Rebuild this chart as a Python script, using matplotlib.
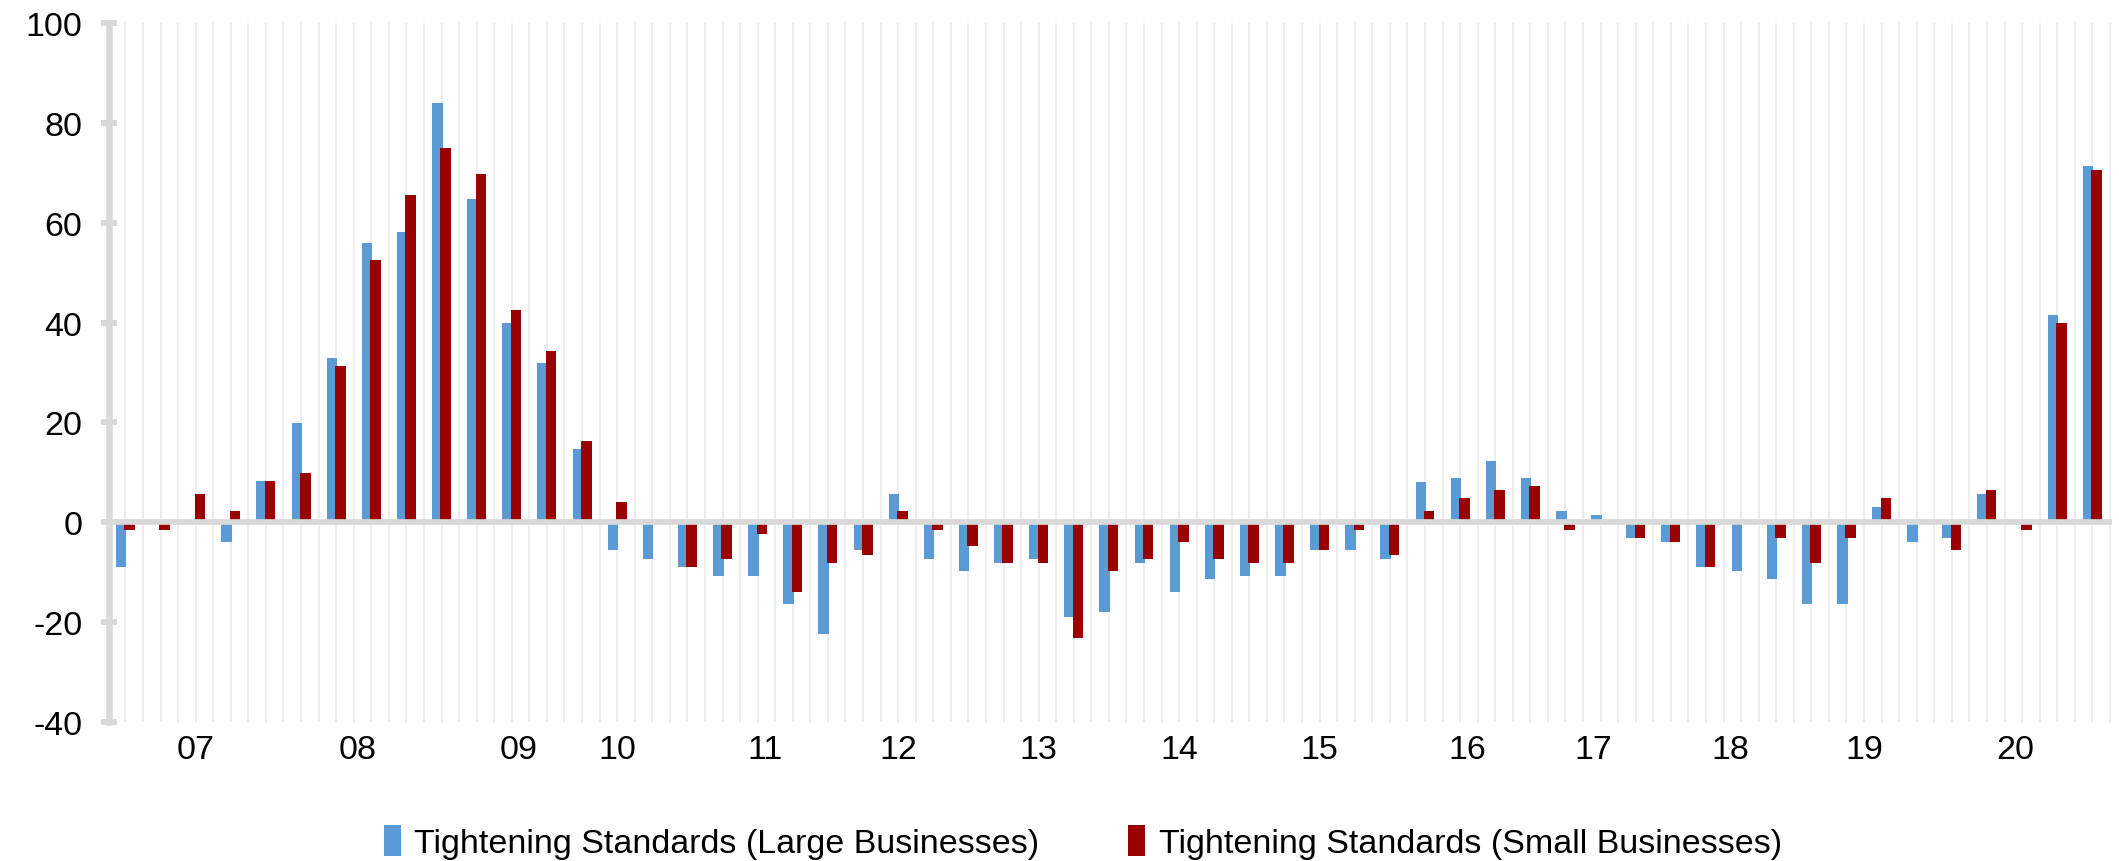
import numpy as np
import matplotlib.pyplot as plt

# dados trimestrais (3T2006 a 3T2020), % líquido de bancos apertando padrões
large = [-9.0, 0.0, 0.0, -4.0, 8.2, 19.8, 32.9, 55.9, 58.2, 83.9,
         64.8, 40.0, 31.8, 14.6, -5.6, -7.3, -9.0, -10.7, -10.7, -16.4,
         -22.3, -5.6, 5.6, -7.4, -9.7, -8.2, -7.3, -18.9, -18.0, -8.2,
         -14.0, -11.4, -10.7, -10.7, -5.6, -5.6, -7.4, 8.1, 8.9, 12.2,
         8.9, 2.3, 1.4, -3.1, -3.9, -9.0, -9.7, -11.4, -16.4, -16.4,
         3.1, -3.9, -3.1, 5.6, 0.0, 41.5, 71.3]
small = [-1.5, -1.5, 5.7, 2.3, 8.2, 9.8, 31.3, 52.6, 65.6, 74.9,
         69.8, 42.5, 34.3, 16.2, 4.0, 0.0, -9.0, -7.4, -2.3, -14.0,
         -8.2, -6.5, 2.3, -1.5, -4.8, -8.2, -8.2, -23.1, -9.7, -7.3,
         -3.9, -7.4, -8.2, -8.2, -5.6, -1.5, -6.5, 2.3, 4.8, 6.4,
         7.3, -1.5, 0.0, -3.1, -3.9, -9.0, 0.0, -3.1, -8.2, -3.1,
         4.8, 0.0, -5.6, 6.4, -1.5, 40.0, 70.5]
years = ['07', '08', '09', '10', '11', '12', '13', '14', '15', '16', '17', '18', '19', '20']
# posição (em trimestres) onde cada rótulo de ano aparece
year_pos = [2, 6.6, 11.2, 14, 18.2, 22, 26, 30, 34, 38.2, 41.8, 45.7, 49.5, 53.8]

plt.rcParams['font.family'] = ['Liberation Sans', 'DejaVu Sans']
plt.rcParams['axes.unicode_minus'] = False

x = np.arange(len(large))
grid_color = '#D9D9D9'
fs = 24.5

fig = plt.figure(figsize=(21.19, 8.62), dpi=100)
ax = fig.add_axes([0.0514, 0.1613, 0.9453, 0.8109])

# linhas de grade verticais (duas por trimestre)
for g in np.arange(0, len(large), 0.5):
    ax.axvline(g, color='#EDEDED', lw=1.5, zorder=0)

ax.bar(x - 0.12, large, width=0.3, color='#5B9BD5', zorder=2,
       label='Tightening Standards (Large Businesses)')
ax.bar(x + 0.12, small, width=0.3, color='#990000', zorder=3,
       label='Tightening Standards (Small Businesses)')

ax.axhline(0, color=grid_color, lw=4.1, zorder=4)

ax.set_xlim(-0.47, 56.56)
ax.set_ylim(-40, 100)
ax.set_yticks(range(-40, 101, 20))
ax.tick_params(axis='y', direction='inout', length=12, width=4.3,
               color=grid_color, labelsize=fs, pad=13)

ax.set_xticks(year_pos)
ax.set_xticklabels(years)
ax.tick_params(axis='x', length=0, labelsize=fs, pad=9)

for s in ['top', 'right', 'bottom']:
    ax.spines[s].set_visible(False)
ax.spines['left'].set_color(grid_color)
ax.spines['left'].set_linewidth(4.7)
ax.spines['left'].set_position(('data', -0.47))

fig.legend(loc='center', bbox_to_anchor=(0.511, 0.022), ncol=2, frameon=False,
           fontsize=fs, handlelength=0.5, handleheight=1.0, handletextpad=0.4,
           columnspacing=2.6)

fig.savefig('out.png', dpi=100)
